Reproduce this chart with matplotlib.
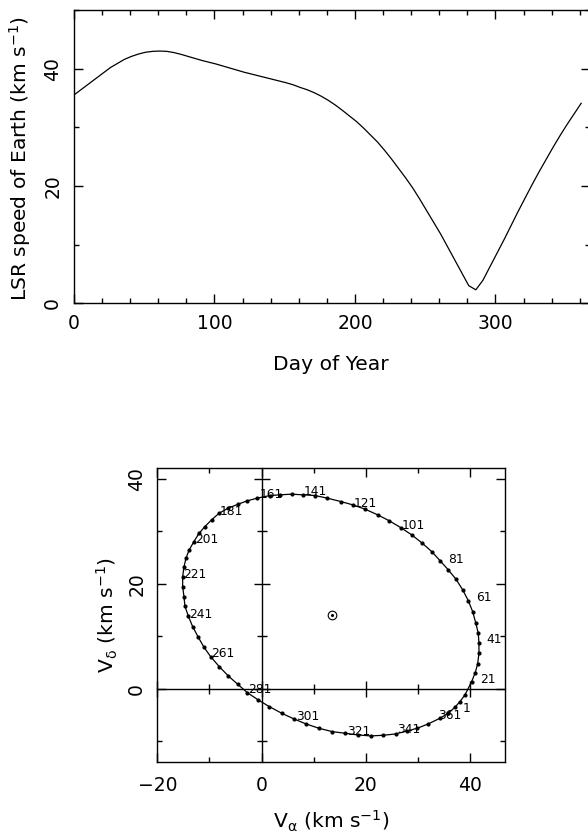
import numpy as np
import matplotlib
matplotlib.use("Agg")
import matplotlib.pyplot as plt
from matplotlib.ticker import MultipleLocator, FixedLocator

plt.rcParams['font.family'] = ['DejaVu Sans']
plt.rcParams['mathtext.default'] = 'regular'

# ---------------- data ----------------
# top panel: LSR speed of Earth sampled every 5 days
days = list(range(1, 362, 5))
speed = [35.7, 36.6, 37.5, 38.4, 39.3, 40.2, 40.9, 41.6, 42.1, 42.5,
         42.8, 42.95, 43.0, 42.95, 42.75, 42.45, 42.1, 41.75, 41.4, 41.1,
         40.8, 40.45, 40.1, 39.75, 39.4, 39.1, 38.8, 38.5, 38.2, 37.9,
         37.6, 37.25, 36.8, 36.4, 35.9, 35.3, 34.6, 33.8, 32.9, 31.95,
         31.0, 29.9, 28.7, 27.5, 26.1, 24.6, 23.0, 21.4, 19.7, 17.8,
         15.8, 13.8, 11.8, 9.6, 7.4, 5.2, 3.0, 2.3, 3.9, 6.2,
         8.5, 10.8, 13.2, 15.6, 17.9, 20.2, 22.4, 24.5, 26.6, 28.6,
         30.5, 32.3, 34.1]

# bottom panel: projected velocity track (every 5 days, starting day 1)
v_alpha = [35.77, 37.05, 38.01, 38.97, 40.25, 40.94, 41.40, 41.65, 41.65, 41.52,
           41.02, 40.44, 39.60, 38.53, 37.24, 35.77, 34.18, 32.59, 30.78, 28.75,
           26.64, 24.46, 22.24, 19.80, 17.44, 15.14, 12.58, 10.22, 7.98, 5.75,
           3.51, 1.59, -0.84, -2.76, -4.48, -6.40, -8.13, -9.59, -10.87, -11.96,
           -12.98, -13.88, -14.51, -14.89, -15.14, -15.14, -14.89, -14.70, -14.07, -13.23,
           -12.15, -11.06, -9.78, -8.13, -6.40, -4.60, -2.76, -0.65, 1.46, 3.83,
           6.19, 8.49, 10.98, 13.53, 15.97, 18.40, 20.89, 23.31, 25.69, 27.91,
           29.83, 31.93, 34.18]
v_delta = [-4.69, -3.55, -2.48, -1.20, 1.34, 3.05, 4.71, 6.75, 8.66, 10.57,
           12.59, 14.69, 16.78, 18.83, 20.87, 22.64, 24.41, 26.13, 27.73, 29.32,
           30.71, 31.99, 33.13, 34.22, 35.04, 35.67, 36.31, 36.81, 36.94, 37.07,
           36.94, 36.81, 36.31, 35.80, 35.17, 34.40, 33.45, 32.18, 30.90, 29.64,
           28.04, 26.45, 24.87, 23.15, 21.36, 19.45, 17.55, 15.70, 13.87, 11.83,
           9.80, 7.90, 6.10, 4.20, 2.42, 0.84, -0.76, -2.16, -3.43, -4.69,
           -5.78, -6.73, -7.56, -8.20, -8.51, -8.83, -9.02, -8.90, -8.64, -8.07,
           -7.56, -6.73, -5.65]

label_text = ['1', '21', '41', '61', '81', '101', '121', '141', '161', '181',
              '201', '221', '241', '261', '281', '301', '321', '341', '361']
label_va = [38.53, 41.84, 43.13, 41.02, 35.77, 26.89, 17.69, 8.01, -0.46, -7.99,
            -12.79, -15.03, -13.88, -9.59, -2.57, 6.57, 16.29, 25.88, 33.85]
label_vd = [-4.40, 1.14, 8.66, 16.78, 23.92, 30.40, 34.71, 36.94, 36.31, 33.13,
            27.73, 21.06, 13.43, 5.98, -0.88, -5.97, -8.83, -8.51, -5.84]

sun_va = [13.4]
sun_vd = [14.05]

top_xticks = [0, 100, 200, 300]
top_yticks = [0, 20, 40]
bot_xticks = [-20, 0, 20, 40]
bot_yticks = [0, 20, 40]

# ---------------- figure ----------------
W, H = 588, 838
fig = plt.figure(figsize=(W / 100, H / 100), dpi=100)

def frac(l, t, r, b):
    return [l / W, 1 - b / H, (r - l) / W, (b - t) / H]

TICKFS = 13.5
LABFS = 14.6
MAJ, MIN = 6.5, 3.6

# ----- top panel -----
ax1 = fig.add_axes(frac(74, 10, 589.6, 303.3))
ax1.plot(days, speed, color='k', lw=0.9)
ax1.set_xlim(0, 367)
ax1.set_ylim(0, 50)
ax1.xaxis.set_major_locator(FixedLocator(top_xticks))
ax1.xaxis.set_minor_locator(MultipleLocator(20))
ax1.yaxis.set_major_locator(FixedLocator(top_yticks))
ax1.yaxis.set_minor_locator(MultipleLocator(10))
ax1.tick_params(which='both', direction='in', top=True, right=True, width=1.0)
ax1.tick_params(which='major', length=MAJ)
ax1.tick_params(which='minor', length=MIN)
ax1.tick_params(axis='x', labelsize=TICKFS, pad=8.0)
ax1.tick_params(axis='y', labelsize=TICKFS, pad=8.5, labelrotation=90)
for t in ax1.get_yticklabels():
    t.set_va('center')
for s in ax1.spines.values():
    s.set_linewidth(1.0)

fig.text(20 / W, 1 - 158 / H, r'LSR speed of Earth (km s$^{-1}$)',
         rotation=90, ha='center', va='center', fontsize=LABFS)
fig.text((74 + 588) / 2 / W, 1 - 364 / H, 'Day of Year',
         ha='center', va='center', fontsize=LABFS)

# ----- bottom panel -----
pos2 = frac(157.3, 468.3, 505.3, 762.3)
ax2 = fig.add_axes(pos2)
ax2.plot(v_alpha + v_alpha[:1], v_delta + v_delta[:1], color='k', lw=0.9,
         marker='o', ms=2.0, mfc='k', mec='k')
ax2.plot(sun_va, sun_vd, linestyle='none', marker='o', ms=6.2, mfc='none',
         mec='k', mew=0.8)
ax2.plot(sun_va, sun_vd, linestyle='none', marker='o', ms=1.2, mfc='k', mec='k')
for txt, x, y in zip(label_text, label_va, label_vd):
    ax2.text(x, y, txt, fontsize=8.8, ha='left', va='baseline')
ax2.set_xlim(-20, 46.7)
ax2.set_ylim(-14.05, 42.0)
ax2.xaxis.set_major_locator(FixedLocator(bot_xticks))
ax2.xaxis.set_minor_locator(MultipleLocator(10))
ax2.yaxis.set_major_locator(FixedLocator(bot_yticks))
ax2.yaxis.set_minor_locator(MultipleLocator(10))
ax2.tick_params(which='both', direction='in', top=True, right=True, width=1.0)
ax2.tick_params(which='major', length=MAJ)
ax2.tick_params(which='minor', length=MIN)
ax2.tick_params(axis='x', labelsize=TICKFS, pad=10.0)
ax2.tick_params(axis='y', labelsize=TICKFS, pad=8.0, labelrotation=90)
for t in ax2.get_yticklabels():
    t.set_va('center')
for s in ax2.spines.values():
    s.set_linewidth(1.0)

# zero axes with ticks crossing them
ax3 = fig.add_axes(pos2, sharex=ax2, sharey=ax2)
ax3.set_facecolor('none')
ax3.spines['top'].set_visible(False)
ax3.spines['right'].set_visible(False)
ax3.spines['left'].set_position(('data', 0))
ax3.spines['bottom'].set_position(('data', 0))
ax3.spines['left'].set_linewidth(1.0)
ax3.spines['bottom'].set_linewidth(1.0)
ax3.tick_params(which='both', direction='inout', top=False, right=False,
                labelleft=False, labelbottom=False, width=1.0)
ax3.tick_params(which='major', length=12.0)
ax3.tick_params(which='minor', length=6.5)

fig.text(331 / W, 1 - 821 / H, r'V$_{\alpha}$ (km s$^{-1}$)',
         ha='center', va='center', fontsize=LABFS)
fig.text(107 / W, 1 - 615 / H, r'V$_{\delta}$ (km s$^{-1}$)',
         rotation=90, ha='center', va='center', fontsize=LABFS)

fig.savefig('out.png', dpi=100)
